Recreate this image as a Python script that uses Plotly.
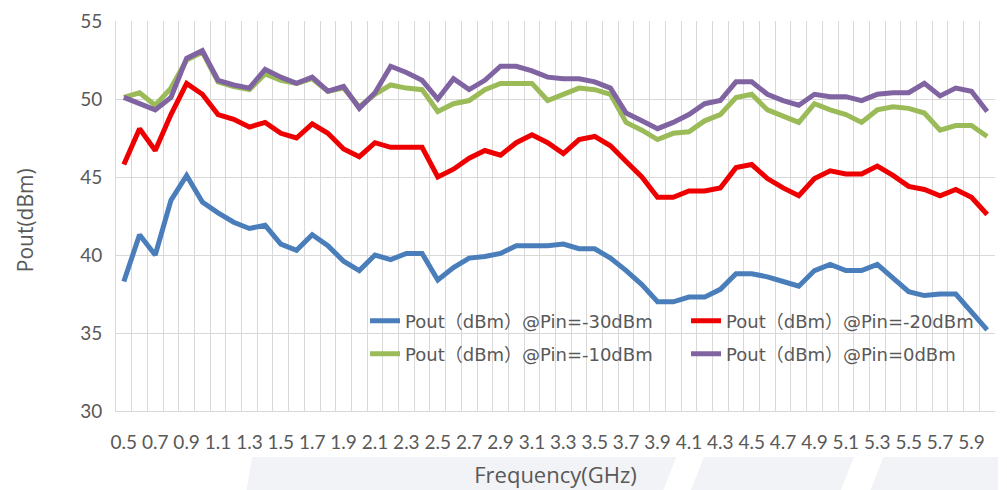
import plotly.graph_objects as go

freq = [round(0.5 + 0.1 * i, 1) for i in range(56)]
tick_labels = ["0.5", "0.7", "0.9", "1.1", "1.3", "1.5", "1.7", "1.9", "2.1", "2.3",
               "2.5", "2.7", "2.9", "3.1", "3.3", "3.5", "3.7", "3.9", "4.1", "4.3",
               "4.5", "4.7", "4.9", "5.1", "5.3", "5.5", "5.7", "5.9"]
tick_freqs = [float(t) for t in tick_labels]

pin_m30 = [38.3, 41.3, 40.0, 43.5, 45.1, 43.4, 42.7, 42.1, 41.7, 41.9,
           40.7, 40.3, 41.3, 40.6, 39.6, 39.0, 40.0, 39.7, 40.1, 40.1,
           38.4, 39.2, 39.8, 39.9, 40.1, 40.6, 40.6, 40.6, 40.7, 40.4,
           40.4, 39.8, 39.0, 38.1, 37.0, 37.0, 37.3, 37.3, 37.8, 38.8,
           38.8, 38.6, 38.3, 38.0, 39.0, 39.4, 39.0, 39.0, 39.4, 38.5,
           37.65, 37.4, 37.5, 37.5, 36.4, 35.2]
pin_m20 = [45.8, 48.1, 46.7, 49.0, 51.0, 50.3, 49.0, 48.7, 48.2, 48.5,
           47.8, 47.5, 48.4, 47.8, 46.8, 46.3, 47.2, 46.9, 46.9, 46.9,
           45.0, 45.5, 46.2, 46.7, 46.4, 47.2, 47.7, 47.2, 46.5, 47.4,
           47.6, 47.0, 46.0, 45.0, 43.7, 43.7, 44.1, 44.1, 44.3, 45.6,
           45.8, 44.9, 44.3, 43.8, 44.9, 45.4, 45.2, 45.2, 45.7, 45.1,
           44.4, 44.2, 43.8, 44.2, 43.7, 42.6]
pin_m10 = [50.1, 50.4, 49.6, 50.7, 52.5, 53.0, 51.1, 50.8, 50.6, 51.6,
           51.2, 51.0, 51.3, 50.5, 50.7, 49.5, 50.3, 50.9, 50.7, 50.6,
           49.2, 49.7, 49.9, 50.6, 51.0, 51.0, 51.0, 49.9, 50.3, 50.7,
           50.6, 50.3, 48.5, 48.0, 47.4, 47.8, 47.9, 48.6, 49.0, 50.1,
           50.3, 49.3, 48.9, 48.5, 49.7, 49.3, 49.0, 48.5, 49.3, 49.5,
           49.4, 49.1, 48.0, 48.3, 48.3, 47.6]
pin_0 = [50.1, 49.7, 49.3, 50.1, 52.6, 53.1, 51.2, 50.9, 50.7, 51.9,
         51.4, 51.0, 51.4, 50.5, 50.8, 49.4, 50.4, 52.1, 51.7, 51.2,
         50.0, 51.3, 50.6, 51.2, 52.1, 52.1, 51.8, 51.4, 51.3, 51.3,
         51.1, 50.7, 49.1, 48.6, 48.1, 48.5, 49.0, 49.7, 49.9, 51.1,
         51.1, 50.3, 49.9, 49.6, 50.3, 50.15, 50.15, 49.9, 50.3, 50.4,
         50.4, 51.0, 50.2, 50.7, 50.5, 49.2]

series = [
    ("Pout（dBm）@Pin=-30dBm", pin_m30, "#4A7EBB", "legend"),
    ("Pout（dBm）@Pin=-20dBm", pin_m20, "#EE0000", "legend"),
    ("Pout（dBm）@Pin=-10dBm", pin_m10, "#9BBB59", "legend2"),
    ("Pout（dBm）@Pin=0dBm", pin_0, "#8064A2", "legend2"),
]

fig = go.Figure()
for name, vals, color, leg in series:
    fig.add_trace(go.Scatter(x=freq, y=vals, name=name, mode="lines",
                             line=dict(color=color, width=5), legend=leg))

grid = "#D9D9D9"
tick_font = dict(family="Lato, DejaVu Sans", size=19, color="#595959")
title_font = dict(family="Open Sans, DejaVu Sans", size=22, color="#595959")
ytitle_font = dict(family="Open Sans, DejaVu Sans", size=21, color="#595959")
leg_font = dict(family="DejaVu Sans, Noto Sans CJK SC", size=18, color="#595959")

boundaries = [round(0.45 + 0.1 * k, 2) for k in range(57)]


# pixel (window) -> paper conversion for decorations
def px(x):
    return (x - 116) / 891


def py(y):
    return (411 - y) / 390


band = "#F2F3F6"
shapes = [
    dict(type="path", xref="paper", yref="paper", layer="below", line=dict(width=0),
         fillcolor=band,
         path=f"M{px(248)},{py(492)} L{px(254)},{py(457)} L{px(1010)},{py(457)} L{px(1010)},{py(492)} Z"),
    dict(type="path", xref="paper", yref="paper", layer="below", line=dict(width=0),
         fillcolor="white",
         path=f"M{px(670)},{py(492)} L{px(684)},{py(457)} L{px(712)},{py(457)} L{px(698)},{py(492)} Z"),
    dict(type="path", xref="paper", yref="paper", layer="below", line=dict(width=0),
         fillcolor="white",
         path=f"M{px(850)},{py(492)} L{px(864)},{py(457)} L{px(894)},{py(457)} L{px(880)},{py(492)} Z"),
]

fig.update_layout(
    width=1007, height=490,
    margin=dict(l=108, r=8, t=13, b=87),
    paper_bgcolor="white", plot_bgcolor="white",
    shapes=shapes,
    xaxis=dict(range=[0.45, 6.05], tickvals=tick_freqs, ticktext=tick_labels,
               showgrid=False, zeroline=False, showline=True, linecolor=grid,
               ticks="", tickfont=tick_font, ticklabelstandoff=14, automargin=False,
               minor=dict(tickvals=boundaries, showgrid=True, gridcolor=grid, gridwidth=1, ticks=""),
               title=dict(text="Frequency(GHz)", font=title_font, standoff=15)),
    yaxis=dict(range=[30, 55], dtick=5, showgrid=True, gridcolor=grid, gridwidth=1,
               zeroline=False, showline=True, linecolor=grid, ticks="",
               tickfont=tick_font, ticklabelstandoff=9, automargin=False),
    annotations=[dict(text="Pout(dBm)", xref="paper", yref="paper", x=px(24), y=py(220),
                      xanchor="center", yanchor="middle", textangle=-90, showarrow=False,
                      font=ytitle_font)],
    legend=dict(orientation="h", x=0.2833, xanchor="left", y=0.2308, yanchor="middle",
                bgcolor="rgba(0,0,0,0)", font=leg_font,
                entrywidth=276, entrywidthmode="pixels"),
    legend2=dict(orientation="h", x=0.2833, xanchor="left", y=0.146, yanchor="middle",
                 bgcolor="rgba(0,0,0,0)", font=leg_font,
                 entrywidth=276, entrywidthmode="pixels"),
    showlegend=True,
)

fig.write_html("out.html")
